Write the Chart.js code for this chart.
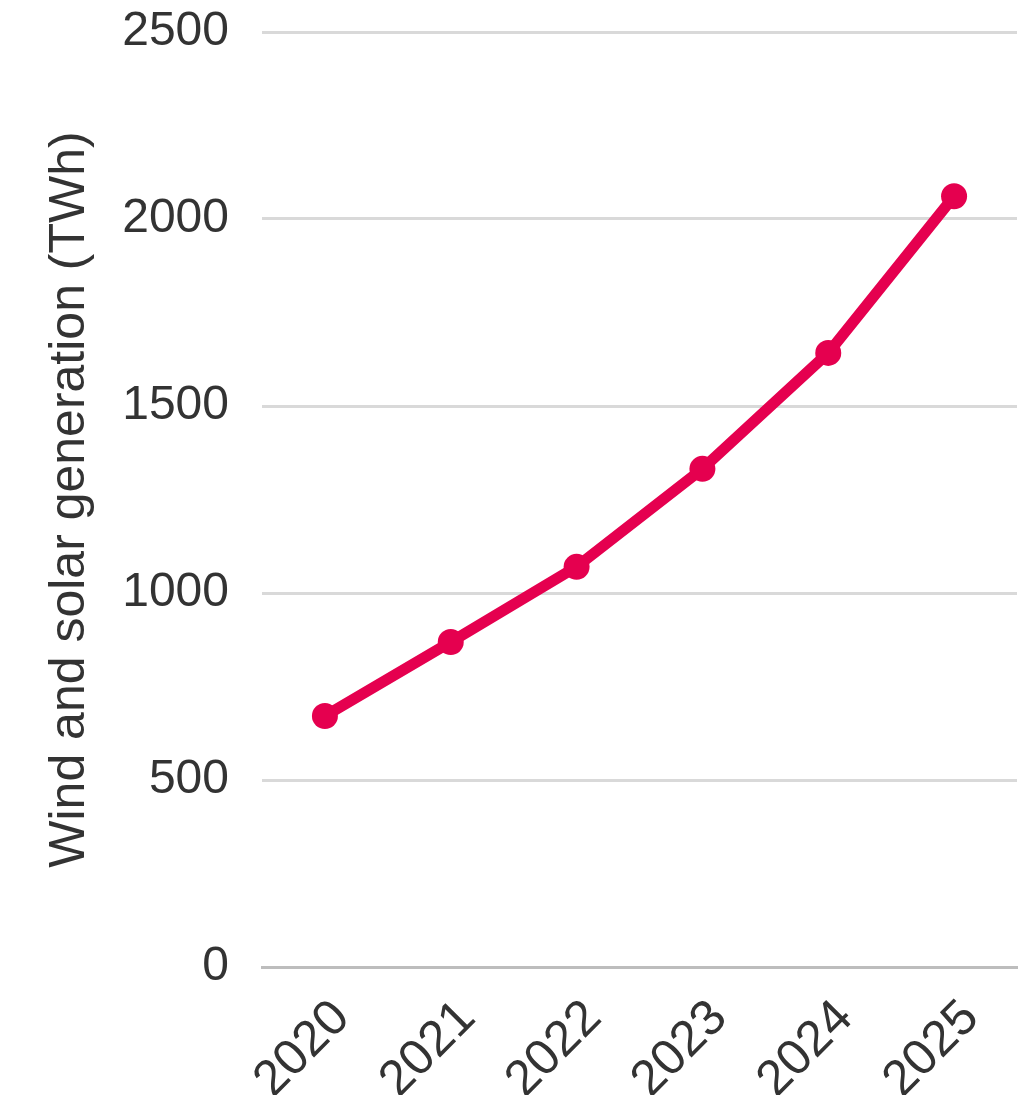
<!DOCTYPE html>
<html>
<head>
<meta charset="utf-8">
<script src="https://cdn.jsdelivr.net/npm/chart.js@4/dist/chart.umd.min.js"></script>
<style>
  html, body { margin: 0; padding: 0; background: #fff; }
  #wrap { width: 1030px; height: 1095px; }
</style>
</head>
<body>
<div id="wrap"><canvas id="myChart" width="1030" height="1095"></canvas></div>
<script>
var years = ['2020', '2021', '2022', '2023', '2024', '2025'];
var generation = [671, 869, 1070, 1332, 1642, 2061];
var yTicks = [0, 500, 1000, 1500, 2000, 2500];

var lineColor = '#e5004f';
var textColor = '#333333';

var ctx = document.getElementById('myChart').getContext('2d');

var myChart = new Chart(ctx, {
    type: 'line',
    data: {
        labels: years,
        datasets: [{
            label: 'Wind and solar generation (TWh)',
            data: generation,
            borderColor: lineColor,
            backgroundColor: lineColor,
            borderWidth: 11,
            pointRadius: 13,
            pointBorderWidth: 0,
            fill: false,
            tension: 0
        }]
    },
    options: {
        responsive: false,
        animation: false,
        layout: { padding: { top: 32, right: 10, left: 0, bottom: 0 } },
        plugins: {
            legend: { display: false },
            tooltip: { enabled: false }
        },
        scales: {
            x: {
                offset: true,
                grid: { display: false },
                border: { display: true, color: '#bdbdbd', width: 3 },
                ticks: {
                    color: textColor,
                    font: { family: 'Liberation Sans', size: 50 },
                    maxRotation: 45,
                    minRotation: 45,
                    padding: 14,
                    labelOffset: 17
                },
                afterFit: function(axis) { axis.height = 128; }
            },
            y: {
                min: 0,
                max: 2500,
                afterBuildTicks: function(axis) {
                    axis.ticks = yTicks.map(function(v) { return { value: v }; });
                },
                afterFit: function(axis) { axis.width = 262; },
                grid: {
                    color: '#d9d9d9',
                    lineWidth: 3,
                    drawTicks: true,
                    tickLength: 33,
                    tickColor: 'rgba(0,0,0,0)'
                },
                border: { display: false },
                ticks: {
                    color: textColor,
                    font: { family: 'Liberation Sans', size: 48 },
                    padding: 0,
                    callback: function(v) { return String(v); }
                },
                title: {
                    display: true,
                    text: 'Wind and solar generation (TWh)',
                    color: textColor,
                    font: { family: 'Liberation Sans', size: 50 },
                    padding: { top: 40, bottom: 0 }
                }
            }
        }
    }
});
</script>
</body>
</html>
